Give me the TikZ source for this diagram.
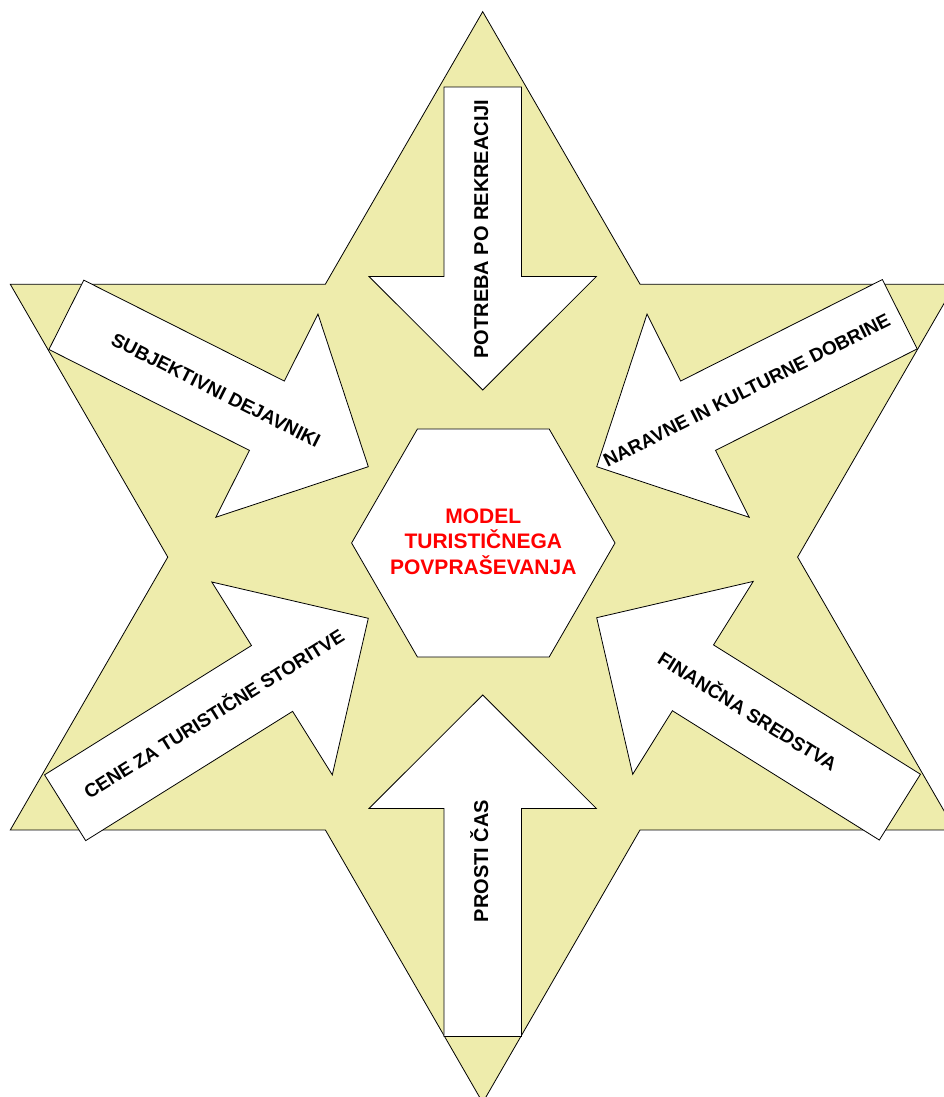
\documentclass[tikz,border=0pt]{standalone}
\usepackage{fontspec}
\setmainfont{Liberation Sans}
\definecolor{starfill}{RGB}{238,236,172}
\definecolor{modelred}{RGB}{255,0,0}
% block arrow: tip x, tip y, direction angle, shaft length
\newcommand\myarrow[4]{%
  \begin{scope}[shift={(#1,#2)}, rotate=#3]
    \draw[arrowbox] (0,0) -- (-113.5,113.7) -- (-113.5,38.8) -- ({-113.5-#4},38.8)
      -- ({-113.5-#4},-38.8) -- (-113.5,-38.8) -- (-113.5,-113.7) -- cycle;
  \end{scope}}
\begin{document}
\begin{tikzpicture}[x=1pt,y=1pt,line join=miter,
  starbox/.style={draw=black, fill=starfill, line width=0.8pt},
  arrowbox/.style={draw=black, fill=white, line width=0.8pt},
  hexbox/.style={draw=black, fill=white, line width=0.8pt},
  lbl/.style={font=\bfseries\fontsize{20}{24}\selectfont, inner sep=0pt, text height=14.3pt, text depth=0pt},
  dlbl/.style={font=\bfseries\fontsize{19}{23}\selectfont, inner sep=0pt, text height=13.6pt, text depth=0pt},
  modeltext/.style={font=\bfseries\fontsize{21}{25.8}\selectfont, text=modelred, align=center, inner sep=0pt}]
\useasboundingbox (0,0) rectangle (944,1097);
\fill[white] (0,0) rectangle (944,1097);
\clip (0,0) rectangle (944,1097);
% star
\draw[starbox] (482.7,1085.3) -- (640.1,812.7) -- (955.1,812.7) -- (797.6,539.9)
  -- (955.1,267) -- (640.0,267) -- (482.7,-5.6) -- (325.4,267) -- (10.3,267)
  -- (167.8,539.9) -- (10.3,812.7) -- (325.3,812.7) -- cycle;
% arrows
\myarrow{482.7}{707}{-90}{189.4}
\myarrow{482.7}{402}{90}{228}
\myarrow{368.3}{630.3}{-26.7}{224.5}
\myarrow{596.7}{630.3}{206.7}{225.8}
\myarrow{368.3}{478.7}{32}{244}
\myarrow{596.7}{479.3}{148}{244}
% hexagon
\draw[hexbox] (615,554) -- (549.15,668.05) -- (417.45,668.05) -- (351.6,554)
  -- (417.45,439.95) -- (549.15,439.95) -- cycle;
\node[modeltext] (model) at (483.3,555.3) {MODEL\\TURISTIČNEGA\\POVPRAŠEVANJA};
% labels
\node[lbl, rotate=90] (potreba) at (481,868) {POTREBA PO REKREACIJI};
\node[lbl, rotate=90] (prosti) at (481,236) {PROSTI ČAS};
\node[dlbl, rotate=-26.7] (subj) at (216,707) {SUBJEKTIVNI DEJAVNIKI};
\node[dlbl, rotate=26.7] (narav) at (746.7,707) {NARAVNE IN KULTURNE DOBRINE};
\node[dlbl, rotate=32] (cene) at (214,383) {CENE ZA TURISTIČNE STORITVE};
\node[dlbl, rotate=-32] (fin) at (747.5,385.3) {FINANČNA SREDSTVA};
\end{tikzpicture}
\end{document}
